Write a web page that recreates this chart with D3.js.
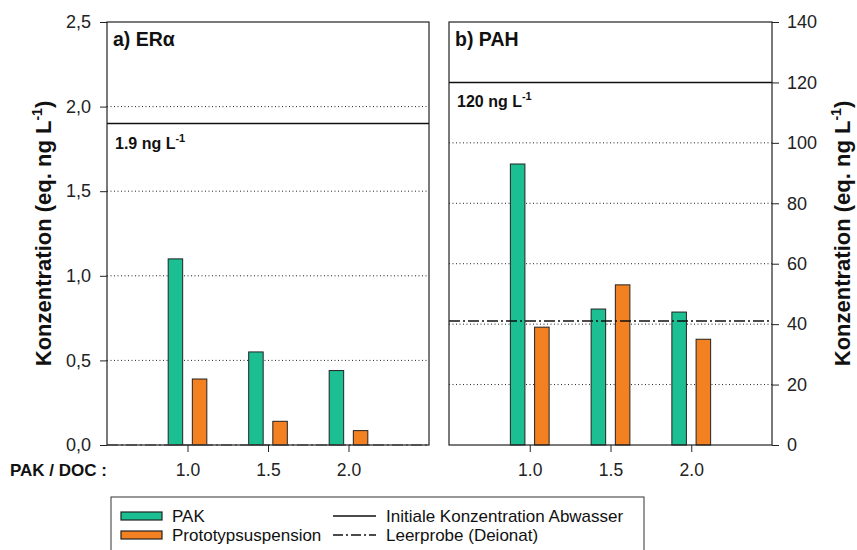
<!DOCTYPE html>
<html>
<head>
<meta charset="utf-8">
<script src="https://cdn.jsdelivr.net/npm/d3@7"></script>
<style>
  body { margin: 0; background: #fff; }
  text { font-family: "Liberation Sans", Arial, sans-serif; }
</style>
</head>
<body>
<div id="chart"></div>
<script>
// Data
var ratios = [1.0, 1.5, 2.0];
var tickLabels = ["1.0", "1.5", "2.0"];
var eraPak = [1.1, 0.55, 0.44];
var eraProto = [0.39, 0.14, 0.085];
var eraInitial = 1.9;
var eraBlank = 0;
var pahPak = [93, 45, 44];
var pahProto = [39, 53, 35];
var pahInitial = 120;
var pahBlank = 41;
var eraTicks = [0, 0.5, 1.0, 1.5, 2.0, 2.5];
var pahTicks = [0, 20, 40, 60, 80, 100, 120, 140];

var svgWidth = 857;
var svgHeight = 550;
var plotTop = 22, plotBottom = 445;
var green = "#1bbf92", orange = "#f38121";

var svg = d3.select("#chart")
  .append("svg")
  .attr("width", svgWidth)
  .attr("height", svgHeight);

var commaFmt = d => d3.format(".1f")(d).replace(".", ",");

function panel(opts) {
  var x = d3.scaleLinear().domain([0.5, 2.5]).range([opts.left, opts.right]);
  var y = d3.scaleLinear().domain([0, opts.max]).range([plotBottom, plotTop]);
  var g = svg.append("g");

  // dotted grid
  g.selectAll(".grid")
    .data(opts.ticks.filter(t => t > 0 && t < opts.max && t !== opts.initial))
    .enter()
    .append("line")
    .attr("x1", opts.left).attr("x2", opts.right)
    .attr("y1", d => y(d)).attr("y2", d => y(d))
    .attr("stroke", "#222")
    .attr("stroke-width", 1)
    .attr("stroke-dasharray", "1,2.5");

  var bw = 0.09, off = 0.075;
  g.selectAll(".pak")
    .data(ratios)
    .enter()
    .append("rect")
    .attr("x", (d, i) => x(d - off - bw / 2))
    .attr("y", (d, i) => y(opts.pak[i]))
    .attr("width", x(bw) - x(0))
    .attr("height", (d, i) => plotBottom - y(opts.pak[i]))
    .attr("fill", green)
    .attr("stroke", "#222")
    .attr("stroke-width", 1);

  g.selectAll(".proto")
    .data(ratios)
    .enter()
    .append("rect")
    .attr("x", (d, i) => x(d + off - bw / 2))
    .attr("y", (d, i) => y(opts.proto[i]))
    .attr("width", x(bw) - x(0))
    .attr("height", (d, i) => plotBottom - y(opts.proto[i]))
    .attr("fill", orange)
    .attr("stroke", "#222")
    .attr("stroke-width", 1);

  // initial concentration
  g.append("line")
    .attr("x1", opts.left).attr("x2", opts.right)
    .attr("y1", y(opts.initial)).attr("y2", y(opts.initial))
    .attr("stroke", "#111").attr("stroke-width", 1.5);

  // blank (Leerprobe)
  g.append("line")
    .attr("x1", opts.left).attr("x2", opts.right)
    .attr("y1", y(opts.blank)).attr("y2", y(opts.blank))
    .attr("stroke", opts.blank === 0 ? "#777" : "#111")
    .attr("stroke-width", 1.5)
    .attr("stroke-dasharray", "11,3,2,3");

  // frame
  g.append("rect")
    .attr("x", opts.left).attr("y", plotTop)
    .attr("width", opts.right - opts.left).attr("height", plotBottom - plotTop)
    .attr("fill", "none").attr("stroke", "#222").attr("stroke-width", 1.2);

  // x axis
  var xAxis = d3.axisBottom(x).tickValues(ratios).tickSize(7).tickSizeOuter(0)
    .tickFormat((d, i) => tickLabels[i]);
  var xg = g.append("g").attr("transform", `translate(0, ${plotBottom})`).call(xAxis);
  xg.select(".domain").remove();
  xg.selectAll("text").attr("font-size", "17.5px").attr("fill", "#222").attr("dy", "1.2em")
    .attr("font-family", "Liberation Sans, Arial, sans-serif");
  xg.selectAll("line").attr("stroke", "#222");

  // y axis
  var yAxis = (opts.side === "left" ? d3.axisLeft(y) : d3.axisRight(y))
    .tickValues(opts.ticks).tickSize(7).tickSizeOuter(0).tickPadding(opts.side === "left" ? 9 : 8)
    .tickFormat(opts.fmt);
  var yg = g.append("g")
    .attr("transform", `translate(${opts.side === "left" ? opts.left : opts.right}, 0)`)
    .call(yAxis);
  yg.select(".domain").remove();
  yg.selectAll("text").attr("font-size", "18px").attr("fill", "#222")
    .attr("font-family", "Liberation Sans, Arial, sans-serif");
  yg.selectAll("line").attr("stroke", "#222");

  // panel title
  g.append("text")
    .attr("x", opts.left + 6).attr("y", plotTop + 24)
    .attr("font-size", "19.5px").attr("font-weight", "bold").attr("fill", "#111")
    .text(opts.title);

  // initial value label
  var lab = g.append("text")
    .attr("x", opts.left + 8).attr("y", y(opts.initial) + 25)
    .attr("font-size", "16px").attr("font-weight", "bold").attr("fill", "#111");
  lab.append("tspan").text(opts.initialLabel + " ng L");
  lab.append("tspan").attr("dy", "-7").attr("font-size", "11px").text("-1");
}

panel({ left: 107, right: 429, max: 2.5, ticks: eraTicks, pak: eraPak, proto: eraProto,
  initial: eraInitial, blank: eraBlank, side: "left", fmt: commaFmt,
  title: "a) ERα", initialLabel: "1.9" });
panel({ left: 449, right: 772, max: 140, ticks: pahTicks, pak: pahPak, proto: pahProto,
  initial: pahInitial, blank: pahBlank, side: "right", fmt: d3.format("d"),
  title: "b) PAH", initialLabel: "120" });

// axis titles
function axisTitle(cx) {
  var t = svg.append("text")
    .attr("transform", `translate(${cx}, ${(plotTop + plotBottom) / 2}) rotate(-90)`)
    .attr("text-anchor", "middle")
    .attr("font-size", "22px").attr("font-weight", "bold").attr("fill", "#111");
  t.append("tspan").text("Konzentration (eq. ng L");
  t.append("tspan").attr("dy", "-9").attr("font-size", "14px").text("-1");
  t.append("tspan").attr("dy", "9").text(")");
}
axisTitle(51);
axisTitle(850);

svg.append("text")
  .attr("x", 10).attr("y", 476)
  .attr("font-size", "17px").attr("font-weight", "bold").attr("fill", "#111")
  .text("PAK / DOC :");

// legend
var legend = svg.append("g");
legend.append("rect")
  .attr("x", 111).attr("y", 497).attr("width", 533).attr("height", 70)
  .attr("fill", "none").attr("stroke", "#333").attr("stroke-width", 1);

var barItems = [["PAK", green], ["Prototypsuspension", orange]];
legend.selectAll(".sw")
  .data(barItems)
  .enter()
  .append("rect")
  .attr("x", 121).attr("y", (d, i) => 512 + i * 19)
  .attr("width", 41).attr("height", 8)
  .attr("fill", d => d[1]).attr("stroke", "#222").attr("stroke-width", 1.2);
legend.selectAll(".bt")
  .data(barItems)
  .enter()
  .append("text")
  .attr("x", 172).attr("y", (d, i) => 522 + i * 19)
  .attr("font-size", "17px").attr("fill", "#111")
  .text(d => d[0]);

var lineItems = [["Initiale Konzentration Abwasser", null], ["Leerprobe (Deionat)", "10,3,2,3"]];
legend.selectAll(".ls")
  .data(lineItems)
  .enter()
  .append("line")
  .attr("x1", 333).attr("x2", 376)
  .attr("y1", (d, i) => 516 + i * 19).attr("y2", (d, i) => 516 + i * 19)
  .attr("stroke", "#111").attr("stroke-width", 1.5)
  .attr("stroke-dasharray", d => d[1]);
legend.selectAll(".lt")
  .data(lineItems)
  .enter()
  .append("text")
  .attr("x", 386).attr("y", (d, i) => 522 + i * 19)
  .attr("font-size", "17px").attr("fill", "#111")
  .text(d => d[0]);
</script>
</body>
</html>
